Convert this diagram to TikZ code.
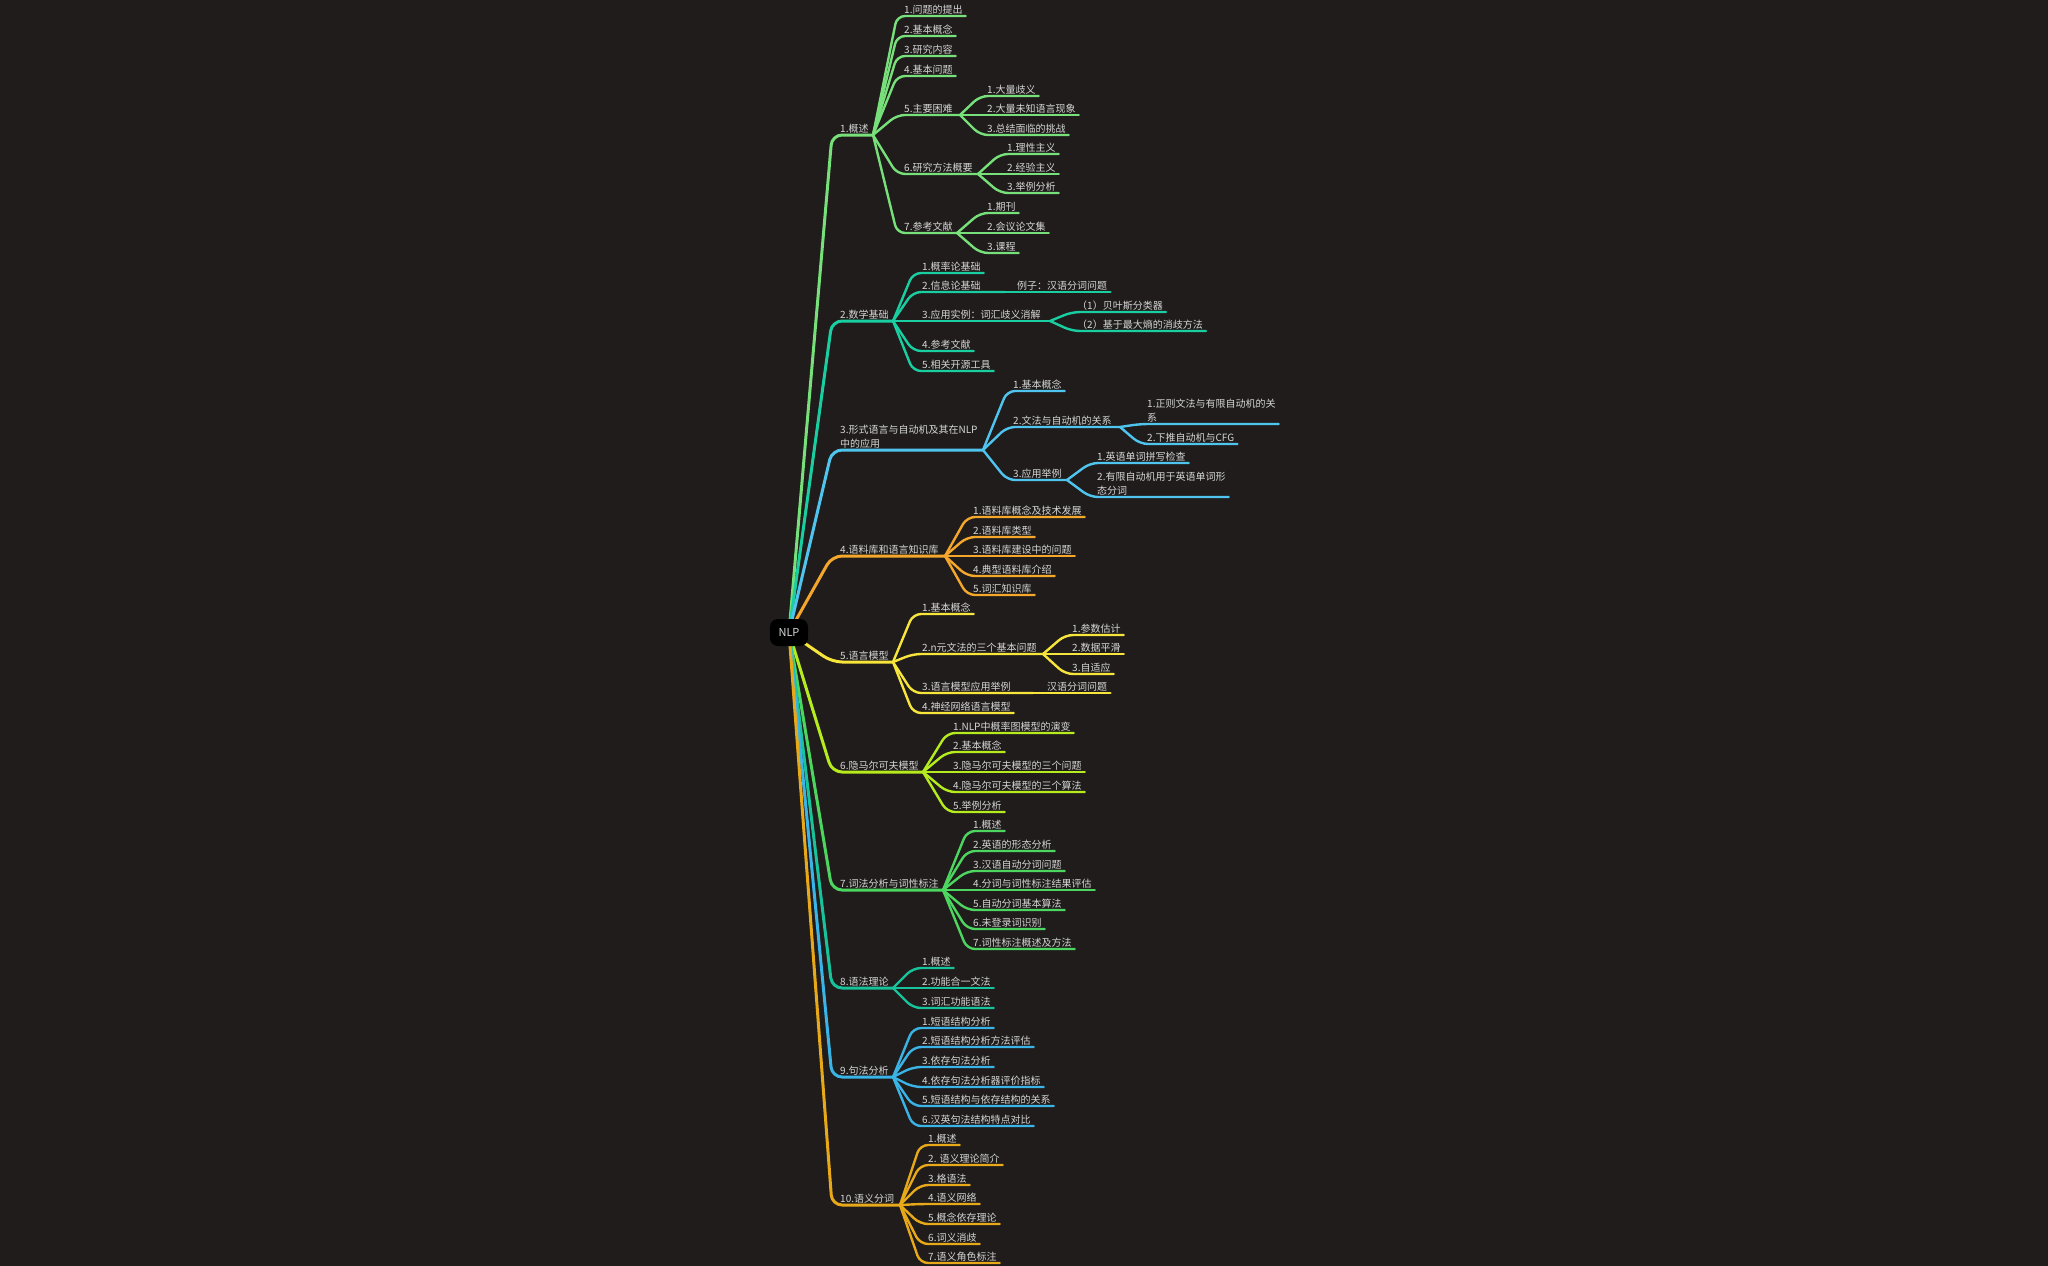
\documentclass[tikz,border=0pt]{standalone}
\usepackage{fontspec}
\setmainfont{Noto Sans CJK SC}
\usetikzlibrary{calc}
\definecolor{bg}{HTML}{1F1C1B}
\definecolor{txt}{HTML}{D6D6D6}
\definecolor{c1}{HTML}{77E07A}
\definecolor{c2}{HTML}{19CFA2}
\definecolor{c3}{HTML}{4FC4EE}
\definecolor{c4}{HTML}{F5A72B}
\definecolor{c5}{HTML}{F7E53C}
\definecolor{c6}{HTML}{B6EC1E}
\definecolor{c7}{HTML}{4DD65F}
\definecolor{c8}{HTML}{18C29A}
\definecolor{c9}{HTML}{3AB3E6}
\definecolor{c10}{HTML}{E7A91A}
\tikzset{
  lbl/.style={anchor=base west, inner sep=0pt, text=txt, font=\fontsize{10}{14}\selectfont},
  mlbl/.style={anchor=south west, inner sep=0pt, text=txt, align=left, font=\fontsize{10}{14}\selectfont},
  br/.style={line width=2.4pt, rounded corners=8pt, line cap=round},
  trunk/.style={line width=3pt, rounded corners=10pt, line cap=round},
  rootbox/.style={fill=black, rounded corners=8pt, minimum width=38pt, minimum height=27pt, inner sep=0pt, text=txt, font=\fontsize{11}{11}\selectfont},
}
% leaf: name, colour, from, xs, xt, y, text
\newcommand\tleaf[7]{%
  \coordinate (#1-s) at (#4,#6);
  \node[lbl] (#1) at (#5,#6-3) {#7};
  \draw[br,#2] (#3) -- (#1-s) -- ($(#1.base east)+(3,3)$);}
% straight continuation on the same line: name, colour, from, xt, y, text
\newcommand\tcont[6]{%
  \node[lbl] (#1) at (#4,#5-3) {#6};
  \draw[br,#2] (#3) -- ($(#1.base east)+(3,3)$);}
% multi-line leaf
\newcommand\tmleaf[7]{%
  \coordinate (#1-s) at (#4,#6);
  \node[mlbl] (#1) at (#5,#6-1.8) {#7};
  \draw[br,#2] (#3) -- (#1-s) -- ($(#1.south east)+(3,1.8)$);}
% parent: name, colour, from, xs, xt, y, xj, text
\newcommand\tpar[8]{%
  \coordinate (#1-s) at (#4,#6);
  \coordinate (#1-j) at (#7,#6);
  \node[lbl] (#1) at (#5,#6-3) {#8};
  \draw[br,#2] (#3) -- (#1-s) -- (#1-j);}
% section: name, colour, y, xj, text
\newcommand\tsect[5]{%
  \coordinate (#1-s) at (832,#3);
  \coordinate (#1-j) at (#4,#3);
  \node[lbl] (#1) at (840,#3-3) {#5};
  \draw[trunk,#2] (nlpc) -- (#1-s) -- (#1-j);}
\newcommand\tsectm[5]{%
  \coordinate (#1-s) at (832,#3);
  \coordinate (#1-j) at (#4,#3);
  \node[mlbl] (#1) at (840,#3-1.8) {#5};
  \draw[trunk,#2] (nlpc) -- (#1-s) -- (#1-j);}

\begin{document}
\begin{tikzpicture}[x=1pt,y=-1pt]
\useasboundingbox (0,0) rectangle (2048,1266);
\fill[bg] (0,0) rectangle (2048,1266);
\coordinate (nlpc) at (789,632.5);

% 1
\tsect{s1}{c1}{135}{873}{1.概述}
\tleaf{a1}{c1}{s1-j}{897}{904}{16}{1.问题的提出}
\tleaf{a2}{c1}{s1-j}{897}{904}{36}{2.基本概念}
\tleaf{a3}{c1}{s1-j}{897}{904}{56}{3.研究内容}
\tleaf{a4}{c1}{s1-j}{897}{904}{76}{4.基本问题}
\tpar{a5}{c1}{s1-j}{897}{904}{115}{960}{5.主要困难}
\tleaf{a51}{c1}{a5-j}{980}{987}{96}{1.大量歧义}
\tleaf{a52}{c1}{a5-j}{980}{987}{115}{2.大量未知语言现象}
\tleaf{a53}{c1}{a5-j}{980}{987}{135}{3.总结面临的挑战}
\tpar{a6}{c1}{s1-j}{897}{904}{174}{978}{6.研究方法概要}
\tleaf{a61}{c1}{a6-j}{1000}{1007}{154}{1.理性主义}
\tleaf{a62}{c1}{a6-j}{1000}{1007}{174}{2.经验主义}
\tleaf{a63}{c1}{a6-j}{1000}{1007}{193}{3.举例分析}
\tpar{a7}{c1}{s1-j}{897}{904}{233}{957}{7.参考文献}
\tleaf{a71}{c1}{a7-j}{980}{987}{213}{1.期刊}
\tleaf{a72}{c1}{a7-j}{980}{987}{233}{2.会议论文集}
\tleaf{a73}{c1}{a7-j}{980}{987}{253}{3.课程}

% 2
\tsect{s2}{c2}{321}{893}{2.数学基础}
\tleaf{b1}{c2}{s2-j}{913}{922}{273}{1.概率论基础}
\tpar{b2}{c2}{s2-j}{913}{922}{292}{1005}{2.信息论基础}
\tcont{b21}{c2}{b2-j}{1017}{292}{例子：汉语分词问题}
\tpar{b3}{c2}{s2-j}{913}{922}{321}{1050}{3.应用实例：词汇歧义消解}
\tleaf{b31}{c2}{b3-j}{1072}{1077}{312}{（1）贝叶斯分类器}
\tleaf{b32}{c2}{b3-j}{1072}{1077}{331}{（2）基于最大熵的消歧方法}
\tleaf{b4}{c2}{s2-j}{913}{922}{351}{4.参考文献}
\tleaf{b5}{c2}{s2-j}{913}{922}{371}{5.相关开源工具}

% 3
\tsectm{s3}{c3}{450}{983}{3.形式语言与自动机及其在NLP\\中的应用}
\tleaf{g1}{c3}{s3-j}{1007}{1013}{391}{1.基本概念}
\tpar{g2}{c3}{s3-j}{1007}{1013}{427}{1120}{2.文法与自动机的关系}
\tmleaf{g21}{c3}{g2-j}{1140}{1147}{424}{1.正则文法与有限自动机的关\\系}
\tleaf{g22}{c3}{g2-j}{1140}{1147}{444}{2.下推自动机与CFG}
\tpar{g3}{c3}{s3-j}{1007}{1013}{480}{1067}{3.应用举例}
\tleaf{g31}{c3}{g3-j}{1090}{1097}{463}{1.英语单词拼写检查}
\tmleaf{g32}{c3}{g3-j}{1090}{1097}{497}{2.有限自动机用于英语单词形\\态分词}

% 4
\tsect{s4}{c4}{556}{945}{4.语料库和语言知识库}
\tleaf{d1}{c4}{s4-j}{967}{973}{517}{1.语料库概念及技术发展}
\tleaf{d2}{c4}{s4-j}{967}{973}{537}{2.语料库类型}
\tleaf{d3}{c4}{s4-j}{967}{973}{556}{3.语料库建设中的问题}
\tleaf{d4}{c4}{s4-j}{967}{973}{576}{4.典型语料库介绍}
\tleaf{d5}{c4}{s4-j}{967}{973}{595}{5.词汇知识库}

% 5
\tsect{s5}{c5}{662}{893}{5.语言模型}
\tleaf{e1}{c5}{s5-j}{913}{922}{614}{1.基本概念}
\tpar{e2}{c5}{s5-j}{913}{922}{654}{1043}{2.n元文法的三个基本问题}
\tleaf{e21}{c5}{e2-j}{1065}{1072}{635}{1.参数估计}
\tleaf{e22}{c5}{e2-j}{1065}{1072}{654}{2.数据平滑}
\tleaf{e23}{c5}{e2-j}{1065}{1072}{674}{3.自适应}
\tpar{e3}{c5}{s5-j}{913}{922}{693}{1033}{3.语言模型应用举例}
\tcont{e31}{c5}{e3-j}{1047}{693}{汉语分词问题}
\tleaf{e4}{c5}{s5-j}{913}{922}{713}{4.神经网络语言模型}

% 6
\tsect{s6}{c6}{772}{923}{6.隐马尔可夫模型}
\tleaf{f1}{c6}{s6-j}{947}{953}{733}{1.NLP中概率图模型的演变}
\tleaf{f2}{c6}{s6-j}{947}{953}{752}{2.基本概念}
\tleaf{f3}{c6}{s6-j}{947}{953}{772}{3.隐马尔可夫模型的三个问题}
\tleaf{f4}{c6}{s6-j}{947}{953}{792}{4.隐马尔可夫模型的三个算法}
\tleaf{f5}{c6}{s6-j}{947}{953}{812}{5.举例分析}

% 7
\tsect{s7}{c7}{890}{943}{7.词法分析与词性标注}
\tleaf{h1}{c7}{s7-j}{967}{973}{831}{1.概述}
\tleaf{h2}{c7}{s7-j}{967}{973}{851}{2.英语的形态分析}
\tleaf{h3}{c7}{s7-j}{967}{973}{871}{3.汉语自动分词问题}
\tleaf{h4}{c7}{s7-j}{967}{973}{890}{4.分词与词性标注结果评估}
\tleaf{h5}{c7}{s7-j}{967}{973}{910}{5.自动分词基本算法}
\tleaf{h6}{c7}{s7-j}{967}{973}{929}{6.未登录词识别}
\tleaf{h7}{c7}{s7-j}{967}{973}{949}{7.词性标注概述及方法}

% 8
\tsect{s8}{c8}{988}{893}{8.语法理论}
\tleaf{i1}{c8}{s8-j}{913}{922}{968}{1.概述}
\tleaf{i2}{c8}{s8-j}{913}{922}{988}{2.功能合一文法}
\tleaf{i3}{c8}{s8-j}{913}{922}{1008}{3.词汇功能语法}

% 9
\tsect{s9}{c9}{1077}{893}{9.句法分析}
\tleaf{j1}{c9}{s9-j}{913}{922}{1028}{1.短语结构分析}
\tleaf{j2}{c9}{s9-j}{913}{922}{1047}{2.短语结构分析方法评估}
\tleaf{j3}{c9}{s9-j}{913}{922}{1067}{3.依存句法分析}
\tleaf{j4}{c9}{s9-j}{913}{922}{1087}{4.依存句法分析器评价指标}
\tleaf{j5}{c9}{s9-j}{913}{922}{1106}{5.短语结构与依存结构的关系}
\tleaf{j6}{c9}{s9-j}{913}{922}{1126}{6.汉英句法结构特点对比}

% 10
\tsect{s10}{c10}{1205}{900}{10.语义分词}
\tleaf{k1}{c10}{s10-j}{920}{928}{1145}{1.概述}
\tleaf{k2}{c10}{s10-j}{920}{928}{1165}{2. 语义理论简介}
\tleaf{k3}{c10}{s10-j}{920}{928}{1185}{3.格语法}
\tleaf{k4}{c10}{s10-j}{920}{928}{1204}{4.语义网络}
\tleaf{k5}{c10}{s10-j}{920}{928}{1224}{5.概念依存理论}
\tleaf{k6}{c10}{s10-j}{920}{928}{1244}{6.词义消歧}
\tleaf{k7}{c10}{s10-j}{920}{928}{1263}{7.语义角色标注}

\node[rootbox] (nlp) at (nlpc) {NLP};
\end{tikzpicture}
\end{document}
